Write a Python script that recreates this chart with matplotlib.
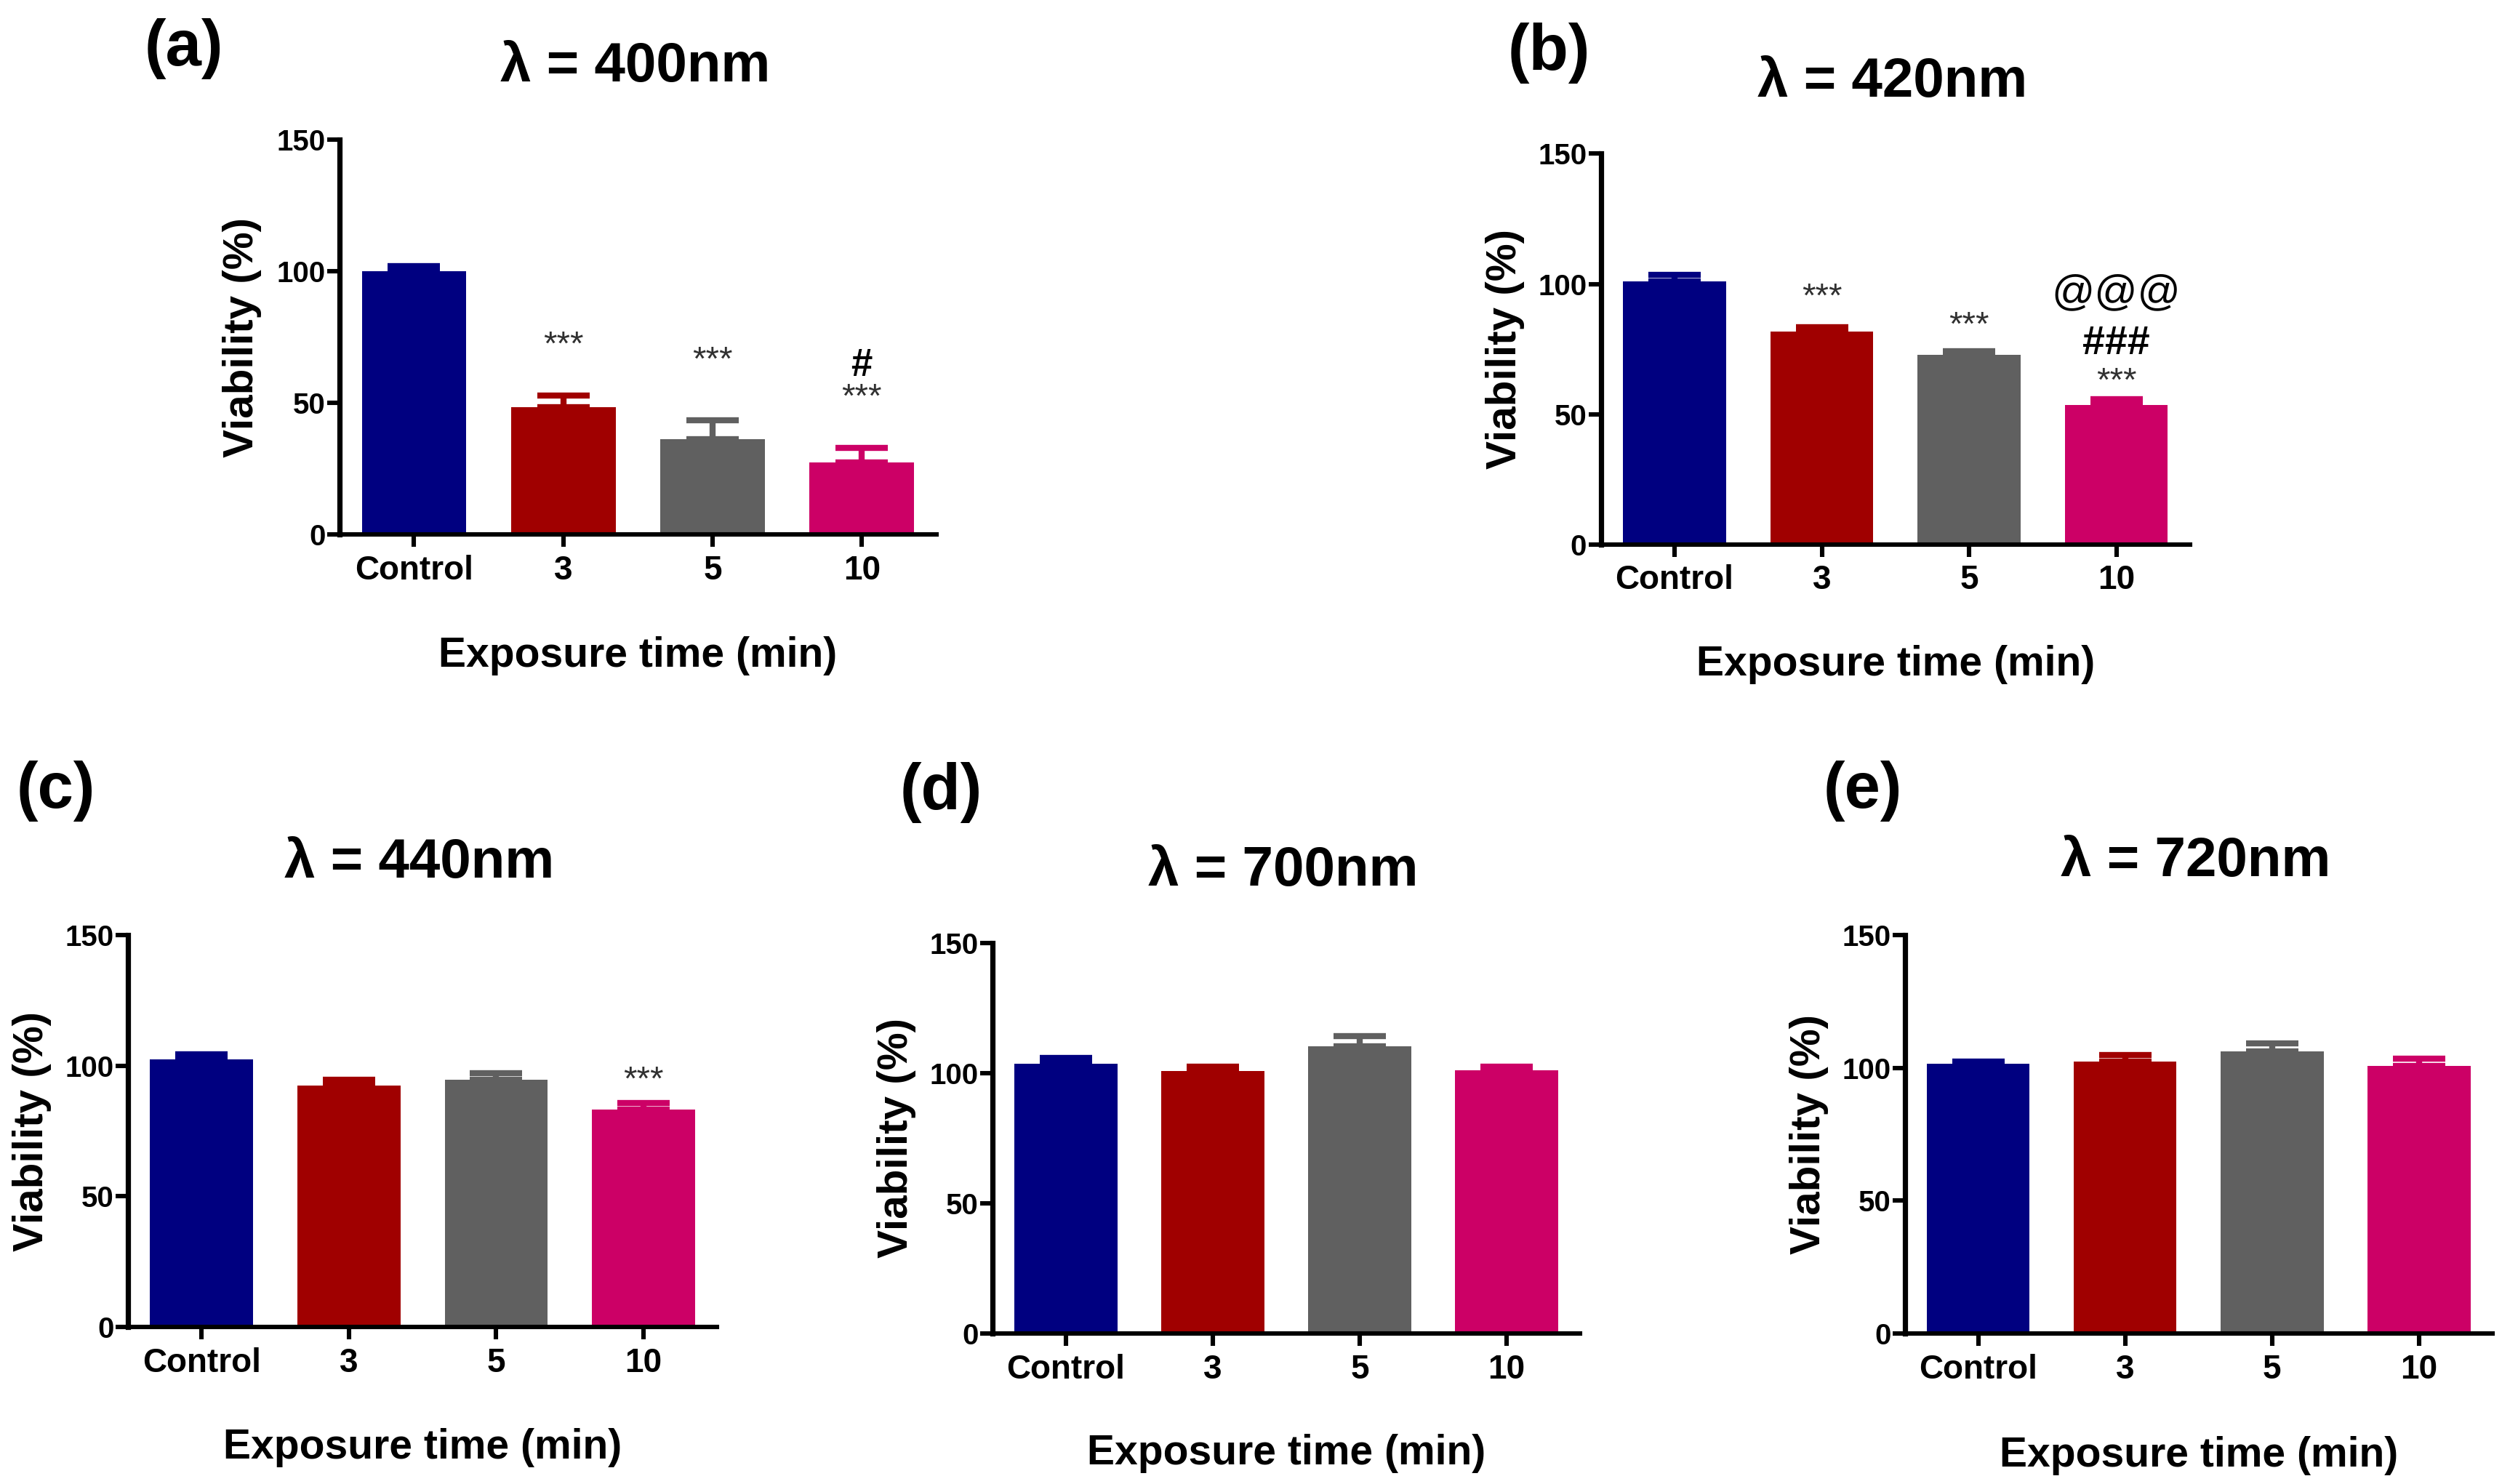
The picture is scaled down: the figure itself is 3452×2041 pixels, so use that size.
import matplotlib
matplotlib.use('Agg')
import matplotlib.pyplot as plt
import numpy as np

plt.rcParams['font.family'] = ['Liberation Sans', 'DejaVu Sans']
plt.rcParams['font.weight'] = 'bold'

groups = ['Control', '3', '5', '10']
bar_colors = ['#000080', '#A00000', '#606060', '#CC0066']

titles = ['λ = 400nm', 'λ = 420nm', 'λ = 440nm', 'λ = 700nm', 'λ = 720nm']
panel_tags = ['(a)', '(b)', '(c)', '(d)', '(e)']

# mean viability (%) and upper error (SEM) per panel
means_a = [100.0, 48.3, 36.3, 27.5]
err_a = [1.8, 4.5, 7.0, 5.3]
means_b = [101.1, 81.7, 72.8, 53.4]
err_b = [2.4, 1.7, 1.4, 2.4]
means_c = [102.4, 92.5, 94.7, 83.1]
err_c = [1.9, 2.1, 2.3, 2.6]
means_d = [103.7, 100.9, 110.4, 101.1]
err_d = [2.2, 1.6, 3.9, 1.4]
means_e = [101.4, 102.3, 106.3, 100.6]
err_e = [0.9, 2.5, 2.8, 2.8]

# significance marks: (bar index, y value, text, size, weight)
marks_a = [(1, 71.7, '***', 17, 'normal'), (2, 65.8, '***', 17, 'normal'),
           (3, 51.7, '***', 17, 'normal'), (3, 64.0, '#', 19, 'bold')]
marks_b = [(1, 94.7, '***', 17, 'normal'), (2, 83.8, '***', 17, 'normal'),
           (3, 62.2, '***', 17, 'normal'), (3, 77.0, '###', 20, 'bold'),
           (3, 96.4, '@@@', 21, 'normal')]
marks_c = [(3, 94.2, '***', 17, 'normal')]
marks_d = []
marks_e = []

all_means = [means_a, means_b, means_c, means_d, means_e]
all_err = [err_a, err_b, err_c, err_d, err_e]
all_marks = [marks_a, marks_b, marks_c, marks_d, marks_e]

# axes rectangles in figure fraction
rects = [
    [0.1352, 0.6397, 0.2379, 0.2664],
    [0.6378, 0.6332, 0.2347, 0.2632],
    [0.0510, 0.1057, 0.2347, 0.2643],
    [0.3954, 0.1014, 0.2341, 0.2632],
    [0.7589, 0.1014, 0.2341, 0.2686],
]
tag_pos = [(0.0733, 0.967), (0.617, 0.964), (0.0223, 0.467), (0.375, 0.466), (0.742, 0.467)]

fig = plt.figure(figsize=(17.26, 10.205), dpi=200)

for k in range(5):
    ax = fig.add_axes(rects[k])
    x = np.arange(len(groups))
    m = np.array(all_means[k])
    e = np.array(all_err[k])
    ax.bar(x, m, width=0.7, color=bar_colors, linewidth=0, zorder=2)
    for i in range(len(groups)):
        ax.errorbar(x[i], m[i], yerr=[[0], [e[i]]], fmt='none', ecolor=bar_colors[i],
                    elinewidth=3, capsize=13, capthick=3, zorder=3)
    for (i, yv, txt, fs, fw) in all_marks[k]:
        ax.text(x[i], yv, txt, ha='center', va='center', fontsize=fs, fontweight=fw,
                color='#303030' if txt == '***' else 'black')

    ax.set_xlim(-0.5, 3.5)
    ax.set_ylim(0, 150)
    ax.set_yticks([0, 50, 100, 150])
    ax.set_xticks(x)
    ax.set_xticklabels(groups, fontsize=16.5, fontweight='bold')
    for lab in ax.get_yticklabels():
        lab.set_fontsize(14.5)
        lab.set_fontweight('bold')
    ax.spines['top'].set_visible(False)
    ax.spines['right'].set_visible(False)
    ax.spines['left'].set_linewidth(2.6)
    ax.spines['bottom'].set_linewidth(2.2)
    ax.tick_params(axis='y', length=6, width=2.2, pad=1)
    ax.tick_params(axis='x', length=6, width=2.2, pad=4)

    ax.set_ylabel('Viability (%)', fontsize=21, fontweight='bold')
    ax.yaxis.set_label_coords(-0.163, 0.5)
    ax.set_xlabel('Exposure time (min)', fontsize=20.5, fontweight='bold')
    ax.xaxis.set_label_coords(0.5, -0.307)
    ax.xaxis.label.set_va('center')
    ax.yaxis.label.set_va('center')

    ax.text(0.495, 1.183, titles[k], transform=ax.transAxes, ha='center', va='center',
            fontsize=27.5, fontweight='bold')
    fig.text(tag_pos[k][0], tag_pos[k][1], panel_tags[k], ha='center', va='center',
             fontsize=32, fontweight='bold')

fig.savefig('out.png', dpi=200, facecolor='white')
